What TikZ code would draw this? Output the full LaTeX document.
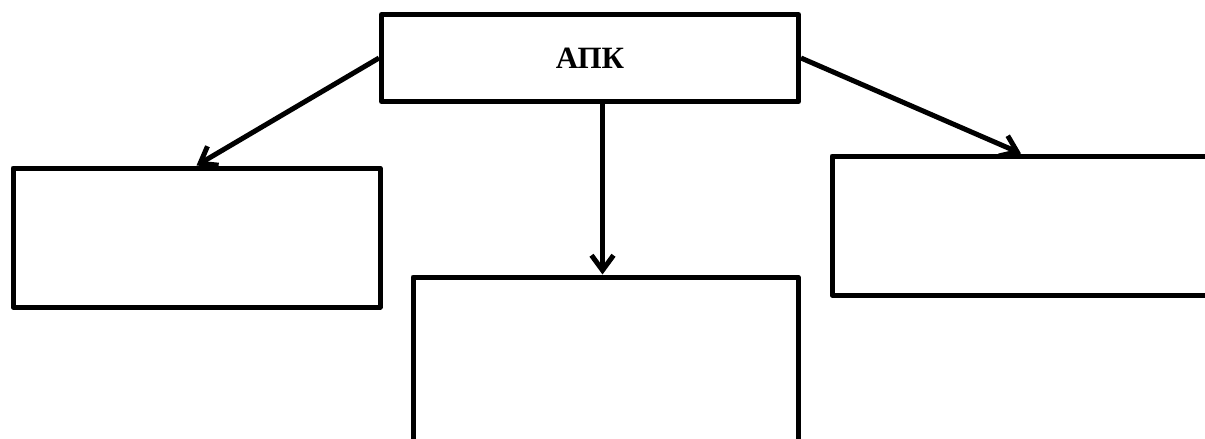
\documentclass[tikz,border=0pt]{standalone}
\usepackage{fontspec}
\setmainfont{Liberation Serif}
\usetikzlibrary{arrows.meta}

\begin{document}
\begin{tikzpicture}[x=1pt,y=-1pt,line width=5pt,>={Straight Barb[length=15pt,width=22pt]}]
    \tikzstyle{box}=[draw=black, rectangle, line join=round, fill=none, text=black, inner sep=0pt]
    \tikzstyle{link}=[->, draw=black]

    \useasboundingbox (0,0) rectangle (1205,439);
    \clip (0,0) rectangle (1205,439);

    \node[box,minimum width=417pt,minimum height=87pt]  (apk)   at (590,58)      {\fontsize{31}{36}\selectfont\bfseries АПК};
    \node[box,minimum width=367pt,minimum height=139pt] (left)  at (196.5,237.5) {};
    \node[box,minimum width=385pt,minimum height=170pt] (mid)   at (605.5,362)   {};
    \node[box,minimum width=378pt,minimum height=139pt] (right) at (1021,225.5)  {};
    \coordinate (midin) at ([xshift=-3pt]mid.north);
    \path
     (apk.west) edge[link] (left.north)
     (apk.south -| midin) edge[link] (midin)
     (apk.east) edge[link] (right.north)
     ;
\end{tikzpicture}
\end{document}
